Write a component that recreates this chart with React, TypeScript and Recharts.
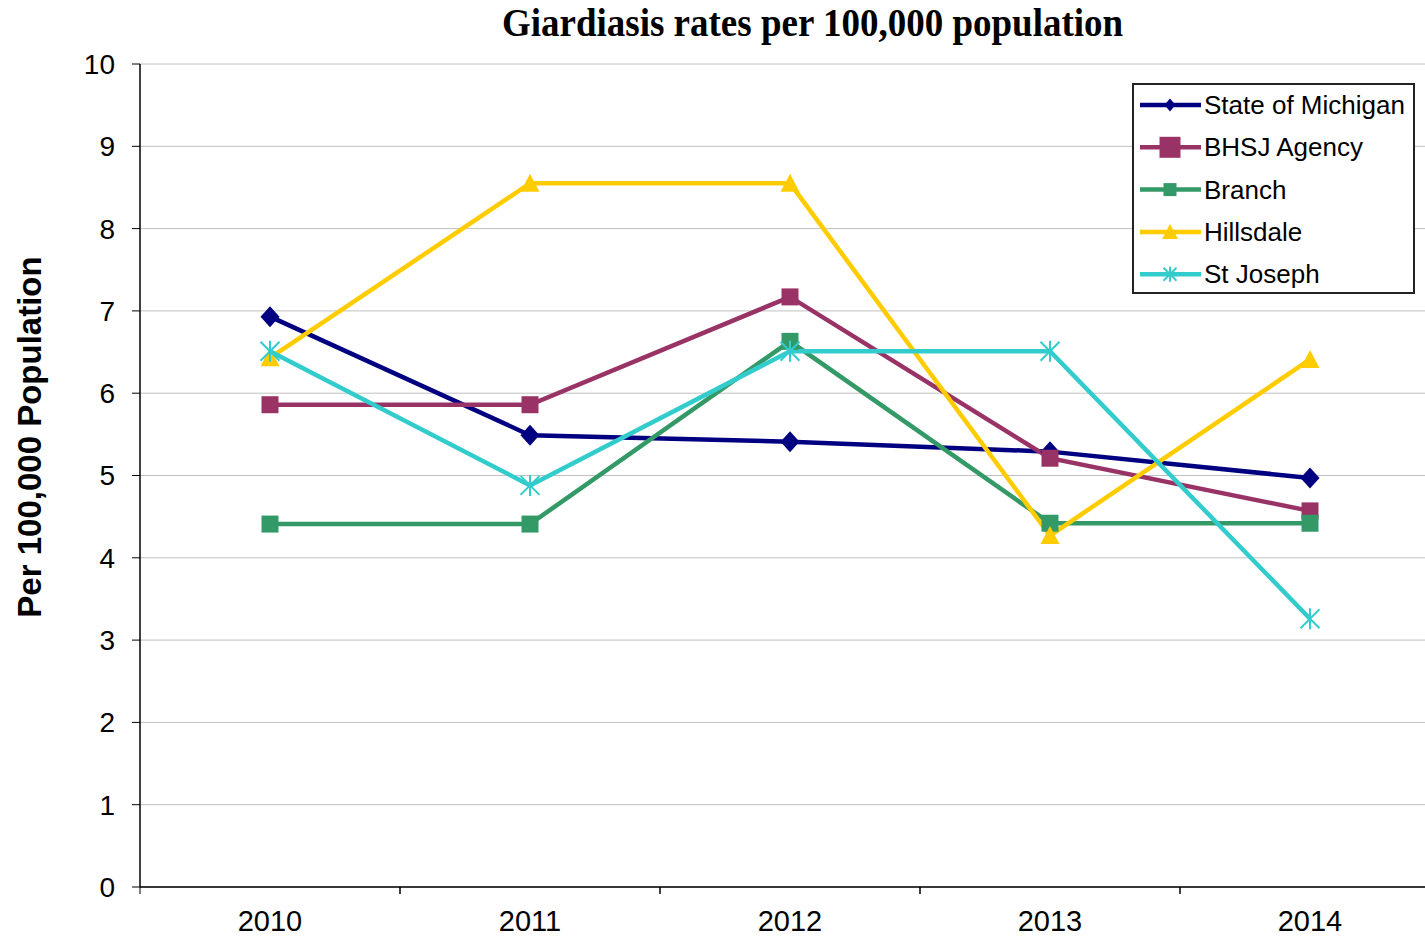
import React from 'react';
import { LineChart, Line, XAxis, YAxis, CartesianGrid, Legend } from 'recharts';

const years = ['2010', '2011', '2012', '2013', '2014'];
const michigan = [6.93, 5.49, 5.41, 5.29, 4.97];
const bhsj = [5.86, 5.86, 7.17, 5.21, 4.57];
const branch = [4.41, 4.41, 6.63, 4.42, 4.42];
const hillsdale = [6.43, 8.55, 8.55, 4.27, 6.41];
const stJoseph = [6.51, 4.88, 6.51, 6.51, 3.26];
const yTicks = [0, 1, 2, 3, 4, 5, 6, 7, 8, 9, 10];

const data = years.map((year, i) => ({
  year,
  michigan: michigan[i],
  bhsj: bhsj[i],
  branch: branch[i],
  hillsdale: hillsdale[i],
  stJoseph: stJoseph[i],
}));

type MarkerKind = 'diamond' | 'square' | 'triangle' | 'star';

const seriesDefs: { key: string; name: string; color: string; marker: MarkerKind }[] = [
  { key: 'michigan', name: 'State of Michigan', color: '#000080', marker: 'diamond' },
  { key: 'bhsj', name: 'BHSJ Agency', color: '#993366', marker: 'square' },
  { key: 'branch', name: 'Branch', color: '#339966', marker: 'square' },
  { key: 'hillsdale', name: 'Hillsdale', color: '#FFCC00', marker: 'triangle' },
  { key: 'stJoseph', name: 'St Joseph', color: '#33CCCC', marker: 'star' },
];

// half the width of one category band; the x tick marks sit on band boundaries
const BAND_HALF = 130;

function Marker({ kind, cx, cy, color, size }: { kind: MarkerKind; cx: number; cy: number; color: string; size: number }) {
  const h = size / 2;
  if (kind === 'diamond') {
    return <path d={`M${cx},${cy - h - 1}L${cx + h},${cy}L${cx},${cy + h + 1}L${cx - h},${cy}Z`} fill={color} />;
  }
  if (kind === 'square') {
    return <rect x={cx - h} y={cy - h} width={size} height={size} fill={color} />;
  }
  if (kind === 'triangle') {
    return <path d={`M${cx},${cy - h - 1}L${cx + h + 1},${cy + h}L${cx - h - 1},${cy + h}Z`} fill={color} />;
  }
  return (
    <g stroke={color} strokeWidth={2}>
      <line x1={cx - h} y1={cy - h} x2={cx + h} y2={cy + h} />
      <line x1={cx - h} y1={cy + h} x2={cx + h} y2={cy - h} />
      <line x1={cx} y1={cy - h - 1} x2={cx} y2={cy + h + 1} />
    </g>
  );
}

const makeDot = (kind: MarkerKind, color: string, size: number) => (props: any) => {
  const { cx, cy, index } = props;
  if (cx == null || cy == null) return <g key={`d-${index}`} />;
  return (
    <g key={`d-${index}`}>
      <Marker kind={kind} cx={cx} cy={cy} color={color} size={size} />
    </g>
  );
};

const dotSizes: Record<string, number> = { michigan: 19, bhsj: 17, branch: 17, hillsdale: 17, stJoseph: 19 };
const legendSizes: Record<string, number> = { michigan: 11, bhsj: 21, branch: 13, hillsdale: 14, stJoseph: 13 };

const XTick = (props: any) => {
  const { x, y, payload } = props;
  return (
    <g>
      <line x1={x - BAND_HALF} y1={y - 7} x2={x - BAND_HALF} y2={y} stroke="#000" strokeWidth={1} />
      <line x1={x + BAND_HALF} y1={y - 7} x2={x + BAND_HALF} y2={y} stroke="#000" strokeWidth={1} />
      <text x={x} y={y + 27} textAnchor="middle" dominantBaseline="central" fontFamily="Arial, 'Liberation Sans', sans-serif" fontSize={29} fill="#000">
        {payload.value}
      </text>
    </g>
  );
};

const LegendBox = () => (
  <svg width={284} height={212} style={{ display: 'block' }}>
    <rect x={1} y={1} width={281} height={209} fill="#fff" stroke="#222" strokeWidth={2} />
    {seriesDefs.map((s, i) => {
      const cy = 22 + i * 42.3;
      return (
        <g key={s.key}>
          <line x1={8} y1={cy} x2={69} y2={cy} stroke={s.color} strokeWidth={4.5} />
          <Marker kind={s.marker} cx={38} cy={cy} color={s.color} size={legendSizes[s.key]} />
          <text x={72} y={cy} dominantBaseline="central" fontFamily="Arial, 'Liberation Sans', sans-serif" fontSize={26} fill="#000">
            {s.name}
          </text>
        </g>
      );
    })}
  </svg>
);

export default function App() {
  return (
    <div style={{ position: 'absolute', left: 0, top: 0, width: 1425, height: 936, overflow: 'hidden', background: '#fff' }}>
      <div
        style={{
          position: 'absolute',
          left: 0,
          width: 1625,
          top: 3,
          textAlign: 'center',
          fontFamily: "'Liberation Serif', 'Times New Roman', serif",
          fontWeight: 'bold',
          fontSize: 37,
          lineHeight: '40px',
          color: '#000',
          transform: 'scaleY(1.08)',
          zIndex: 2,
        }}
      >
        Giardiasis rates per 100,000 population
      </div>
      <LineChart width={1440} height={936} data={data} margin={{ top: 64, right: 0, bottom: 0, left: 0 }}>
        <CartesianGrid horizontal vertical={false} stroke="#c0c0c0" strokeWidth={1} />
        <XAxis
          dataKey="year"
          height={49}
          padding={{ left: BAND_HALF, right: BAND_HALF }}
          axisLine={{ stroke: '#000', strokeWidth: 1.5 }}
          tickLine={false}
          tickSize={7}
          tickMargin={0}
          tick={<XTick />}
          interval={0}
        />
        <YAxis
          domain={[0, 10]}
          ticks={yTicks}
          width={140}
          interval={0}
          axisLine={{ stroke: '#000', strokeWidth: 1.5 }}
          tickLine={{ stroke: '#000' }}
          tickSize={8}
          tickMargin={17}
          tick={{ fontFamily: "Arial, 'Liberation Sans', sans-serif", fontSize: 28, fill: '#000' }}
          label={{
            content: () => (
              <text
                x={29}
                y={437}
                transform="rotate(-90 29 437)"
                textAnchor="middle"
                dominantBaseline="central"
                fontFamily="Arial, 'Liberation Sans', sans-serif"
                fontWeight="bold"
                fontSize={33}
                fill="#000"
              >
                Per 100,000 Population
              </text>
            ),
          }}
        />
        <Legend
          layout="vertical"
          align="center"
          verticalAlign="middle"
          content={<LegendBox />}
          wrapperStyle={{ position: 'absolute', left: 1132, top: 83, width: 284, height: 212 }}
        />
        {seriesDefs.map((s) => (
          <Line
            key={s.key}
            dataKey={s.key}
            name={s.name}
            stroke={s.color}
            strokeWidth={4.5}
            type="linear"
            isAnimationActive={false}
            dot={makeDot(s.marker, s.color, dotSizes[s.key])}
            activeDot={false}
          />
        ))}
      </LineChart>
    </div>
  );
}
